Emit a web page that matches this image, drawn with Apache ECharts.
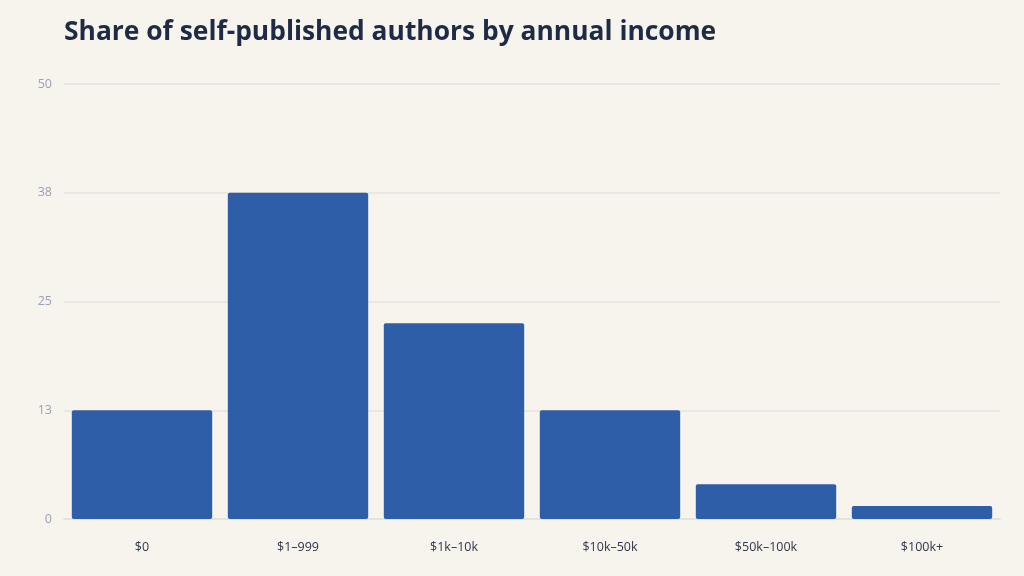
<!DOCTYPE html>
<html>
<head>
<meta charset="utf-8">
<script src="https://cdn.jsdelivr.net/npm/echarts@6/dist/echarts.min.js"></script>
<style>
  html, body { margin: 0; padding: 0; background: #f7f4ee; }
  #chart { width: 1024px; height: 576px; }
</style>
</head>
<body>
<div id="chart"></div>
<script>
var incomeBands = ['$0', '$1–999', '$1k–10k', '$10k–50k', '$50k–100k', '$100k+'];
var authorShare = [12.5, 37.5, 22.5, 12.5, 4, 1.5];

var chart = echarts.init(document.getElementById('chart'));

var option = {
    backgroundColor: '#f7f4ee',
    animation: false,
    title: {
        text: 'Share of self-published authors by annual income',
        left: 59,
        top: 14,
        textStyle: {
            color: '#1f2a44',
            fontSize: 26.4,
            fontWeight: 'bold',
            fontFamily: 'Open Sans'
        }
    },
    grid: {
        left: 64,
        right: 24,
        top: 84,
        bottom: 57
    },
    xAxis: {
        type: 'category',
        data: incomeBands,
        axisTick: { show: false },
        axisLine: { lineStyle: { color: '#e6e2dc', width: 2 } },
        axisLabel: {
            color: '#2f364a',
            fontSize: 12.5,
            margin: 22,
            fontFamily: 'Open Sans'
        }
    },
    yAxis: {
        type: 'value',
        min: 0,
        max: 50,
        interval: 12.5,
        axisLine: { show: false },
        axisTick: { show: false },
        splitLine: { lineStyle: { color: '#e6e2dc', width: 1.5 } },
        axisLabel: {
            color: '#9aa1b4',
            fontSize: 12.5,
            margin: 12,
            fontFamily: 'Open Sans',
            formatter: function (v) { return Math.round(v); }
        }
    },
    series: [
        {
            name: 'Share',
            type: 'bar',
            data: authorShare,
            barCategoryGap: '10%',
            itemStyle: {
                color: '#2e5ea8',
                borderRadius: 2
            }
        }
    ]
};

chart.setOption(option);
window.onresize = function () { chart.resize(); };
</script>
</body>
</html>
